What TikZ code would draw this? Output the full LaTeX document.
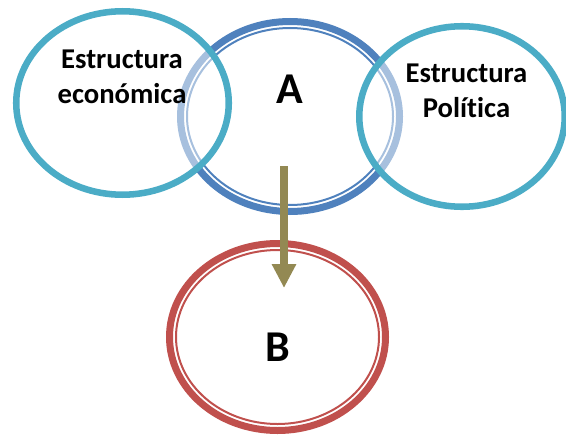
\documentclass[tikz,border=0pt]{standalone}
\usepackage{fontspec}
\setmainfont{Carlito}[Ligatures=NoCommon]
\usetikzlibrary{shapes.geometric,arrows.meta}

\definecolor{ringblue}{HTML}{4F81BD}
\definecolor{ringteal}{HTML}{4BACC6}
\definecolor{ringred}{HTML}{C0504D}
\definecolor{arrowolive}{HTML}{938953}

\tikzset{
  ring/.style={ellipse,draw,inner sep=0pt,outer sep=0pt},
  thinring/.style={ring,line width=1.5pt},
  tealring/.style={ring,ringteal,fill=white,fill opacity=0.5,line width=4.9pt},
  wordbox/.style={font=\bfseries\fontsize{21.5}{26}\selectfont,align=center,inner sep=0pt},
  letterbox/.style={font=\bfseries\fontsize{33}{40}\selectfont,inner sep=0pt}
}

\begin{document}
\begin{tikzpicture}[x=0.75pt,y=-0.75pt]
  \useasboundingbox (0,0) rectangle (566,435);
  % A and B: thick band with a thin line inside
  \node[ring,ringblue,line width=5.25pt,minimum width=164.25pt,minimum height=142.5pt] (ringA) at (290,116.5) {};
  \node[thinring,ringblue,minimum width=154.5pt,minimum height=132.75pt] (ringAin) at (290,116.5) {};
  \node[ring,ringred,line width=5.25pt,minimum width=162pt,minimum height=140.25pt] (ringB) at (277.5,337) {};
  \node[thinring,ringred,minimum width=152.25pt,minimum height=130.5pt] (ringBin) at (277.5,337) {};
  % the two structures
  \node[tealring,minimum width=159.4pt,minimum height=137.6pt] (econ) at (122.5,103) {};
  \node[tealring,minimum width=154.1pt,minimum height=135.4pt] (poli) at (462,116.5) {};
  % arrow from A down into B
  \coordinate (arrowtop) at (284,166);
  \coordinate (arrowtip) at (284,288);
  \draw[arrowolive,line width=6pt,-{Triangle[length=18pt,width=17.25pt]}] (arrowtop) -- (arrowtip);
  \node[wordbox] (econtext) at (122,76.5) {Estructura\\económica};
  \node[wordbox] (politext) at (466.5,90.5) {Estructura\\Política};
  \node[letterbox] (letterA) at (290,89) {A};
  \node[letterbox] (letterB) at (278,347.5) {B};
\end{tikzpicture}
\end{document}
